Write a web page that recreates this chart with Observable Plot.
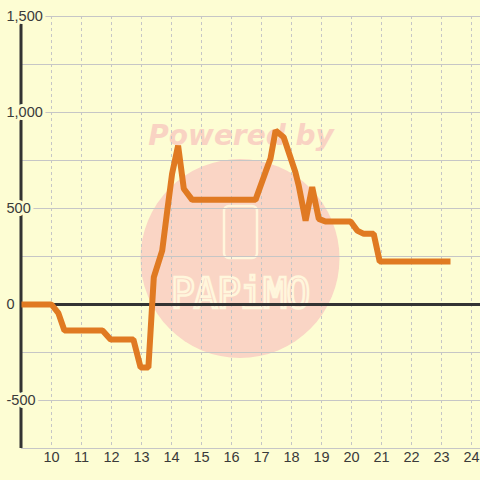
<!DOCTYPE html>
<html>
<head>
<meta charset="utf-8">
<script src="https://cdn.jsdelivr.net/npm/d3@7"></script>
<script src="https://cdn.jsdelivr.net/npm/@observablehq/plot@0.6"></script>
<style>
  html, body { margin: 0; padding: 0; background: #fdfdd3; }
  #wrap { position: relative; width: 480px; height: 480px; overflow: hidden; background: #fdfdd3; }
  #wm { position: absolute; left: 0; top: 0; }
  #chart { position: absolute; left: 0; top: 0; }
</style>
</head>
<body>
<div id="wrap">
  <svg id="wm" width="480" height="480">
    <text x="241" y="145" text-anchor="middle" font-family="DejaVu Sans" font-weight="bold" font-style="oblique" font-size="28" fill="#f9d3c3">Powered by</text>
    <circle cx="240" cy="258.5" r="99.5" fill="#fad5c5"></circle>
    <rect x="224" y="206" width="33" height="52" rx="5" fill="none" stroke="#fff6dc" stroke-width="2.5"></rect>
    <text x="240" y="307" text-anchor="middle" font-family="DejaVu Sans Mono" font-size="40" letter-spacing="-1" fill="none" stroke="#fff6dc" stroke-width="2.5" transform="translate(240 291) scale(1 1.05) translate(-240 -291)">PAPiMO</text>
  </svg>
  <div id="chart"></div>
</div>
<script>
const hours = [9, 10.0, 10.23, 10.43, 11.7, 11.97, 12.73, 12.97, 13.23, 13.41, 13.69, 13.86, 14.02, 14.22, 14.41, 14.69, 16.8, 17.13, 17.3, 17.47, 17.74, 18.13, 18.24, 18.47, 18.69, 18.91, 19.13, 19.97, 20.19, 20.41, 20.74, 20.94, 23.3];
const values = [0, 0, -45, -135, -135, -182, -182, -328, -328, 142, 281, 490, 682, 828, 603, 545, 545, 688, 760, 906, 871, 689, 620, 437, 611, 446, 432, 432, 385, 368, 368, 224, 224];
const xTicks = [10, 11, 12, 13, 14, 15, 16, 17, 18, 19, 20, 21, 22, 23, 24];
const yTicks = [-500, 0, 500, 1000, 1500];
const yGrid = [-750, -500, -250, 0, 250, 500, 750, 1000, 1250, 1500];

const data = hours.map((h, i) => ({h, v: values[i]}));
const bg = "#fdfdd3";
const fmt = d => d.toLocaleString("en-US");

const chart = Plot.plot({
  width: 480,
  height: 480,
  marginTop: 16,
  marginBottom: 32,
  marginLeft: 21,
  marginRight: 0,
  style: {background: "transparent", fontFamily: "Liberation Sans, Arial, sans-serif"},
  x: {domain: [9, 24.3], axis: null},
  y: {domain: [-750, 1500], axis: null},
  marks: [
    Plot.ruleY(yGrid, {y: d => d, stroke: "#c6c6c6", strokeWidth: 1}),
    Plot.ruleX(xTicks, {x: d => d, stroke: "#c6c6c6", strokeWidth: 1, strokeDasharray: "3,3"}),
    Plot.ruleX([9], {x: d => d, dx: -0.5, stroke: "#333333", strokeWidth: 3}),
    Plot.text(yTicks, {y: d => d, text: fmt, frameAnchor: "left", dx: -15, textAnchor: "start", fontSize: 14.5, fill: "#3a3a3a", stroke: bg, strokeWidth: 6}),
    Plot.ruleY([0], {y: d => d, stroke: "#333333", strokeWidth: 3}),
    Plot.line(data, {x: "h", y: "v", stroke: "#e07a22", strokeWidth: 6, strokeLinejoin: "miter", strokeLinecap: "butt"}),
    Plot.text(xTicks, {x: d => d, text: d => String(d), frameAnchor: "bottom", dy: 13, fontSize: 14.5, fill: "#3a3a3a"})
  ]
});
document.getElementById("chart").appendChild(chart);
</script>
</body>
</html>
